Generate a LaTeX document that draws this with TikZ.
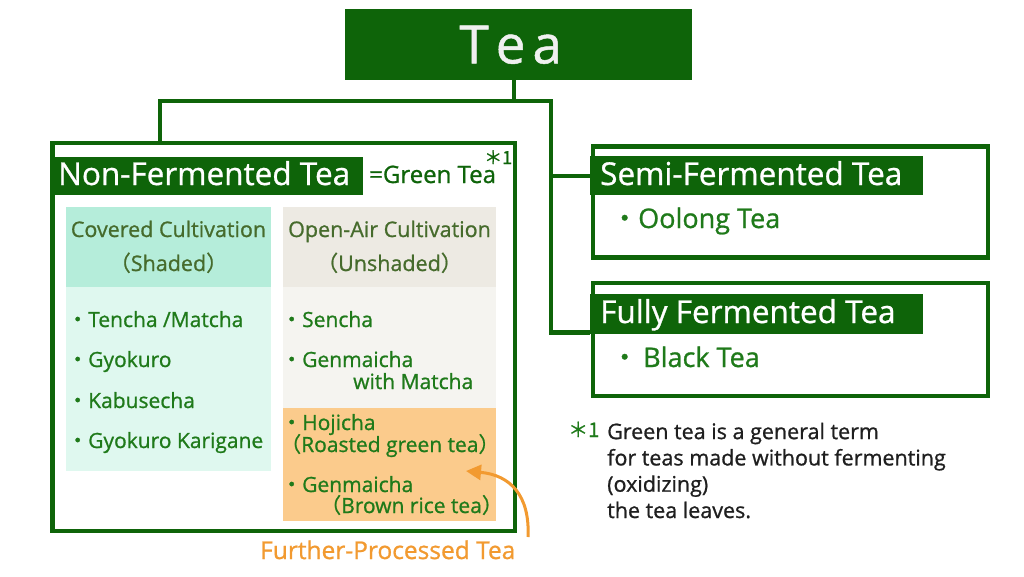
\documentclass[tikz,border=0pt]{standalone}
\usepackage{fontspec}
\setmainfont{Open Sans}[RawFeature={embolden=0.9}]
\newfontfamily\jpfont{Noto Sans CJK JP}[RawFeature={embolden=0.9}]
\usetikzlibrary{positioning,arrows.meta}

\definecolor{teagreen}{HTML}{0E6409}
\definecolor{leafgreen}{HTML}{1F7A1A}
\definecolor{olivetext}{HTML}{466B2C}
\definecolor{mintdark}{HTML}{B5EDDA}
\definecolor{mintlight}{HTML}{DFF8EF}
\definecolor{beigedark}{HTML}{EDEAE3}
\definecolor{beigelight}{HTML}{F5F4F0}
\definecolor{roastorange}{HTML}{FBCB8C}
\definecolor{arroworange}{HTML}{F29A30}

\newcommand{\dotmark}{{\jpfont ・}}
\newcommand{\lpar}{{\jpfont （}}
\newcommand{\rpar}{{\jpfont ）}}

\begin{document}
\begin{tikzpicture}[x=1pt,y=-1pt,
    groupbox/.style={draw=teagreen,line width=4.5pt,fill=white,inner sep=0pt,anchor=north west},
    titlebar/.style={fill=teagreen,inner sep=0pt,anchor=north west},
    titletext/.style={text=white,font=\fontsize{31.5}{31}\selectfont,inner sep=0pt,anchor=base west},
    cellbox/.style={inner sep=0pt,anchor=north west},
    headtext/.style={text=olivetext,font=\fontsize{21.5}{24}\selectfont,inner sep=0pt,anchor=base},
    itemtext/.style={text=leafgreen,font=\fontsize{21}{24}\selectfont,inner sep=0pt,anchor=base west},
    branch/.style={draw=teagreen,line width=4.3pt}]
    \useasboundingbox (0,0) rectangle (1024,576);
    \fill[white] (0,0) rectangle (1024,576);

    % root
    \node[titlebar,minimum width=347pt,minimum height=71pt,text=white!94!black,
          font=\fontsize{53}{53}\selectfont] (tea) at (345,9) {T\kern7pt e\kern7pt a\kern16pt};

    % non-fermented
    \node[groupbox,minimum width=462.5pt,minimum height=388pt] (nonferm) at (50,140.5) {};
    \node[titlebar,minimum width=313pt,minimum height=38pt] (nonfermbar) at (50,157) {};
    \node[titletext] (nonfermlbl) at (58,185) {Non-Fermented Tea};
    \node[inner sep=0pt,anchor=base west,text=teagreen,font=\fontsize{24}{24}\selectfont] (greentea) at (369,183) {=Green Tea};
    \node[inner sep=0pt,anchor=base west,text=teagreen,font=\fontsize{18}{20}\selectfont] (noteref) at (484,164) {\jpfont ＊1};

    \node[cellbox,fill=mintdark,minimum width=205pt,minimum height=80pt] (covhead) at (66,207) {};
    \node[cellbox,fill=mintlight,minimum width=205pt,minimum height=184pt] (covlist) at (66,287) {};
    \node[cellbox,fill=beigedark,minimum width=213pt,minimum height=80pt] (openhead) at (283,207) {};
    \node[cellbox,fill=beigelight,minimum width=213pt,minimum height=121pt] (openlist) at (283,287) {};
    \node[cellbox,fill=roastorange,minimum width=213pt,minimum height=113pt] (roast) at (283,408) {};

    \node[headtext] (covtitle) at (168.5,237) {Covered Cultivation};
    \node[headtext] (covsub) at (168.5,271) {\lpar Shaded\rpar};
    \node[headtext] (opentitle) at (389.5,237) {Open-Air Cultivation};
    \node[headtext] (opensub) at (389.5,271) {\lpar Unshaded\rpar};

    \node[itemtext] (tencha) at (67,327) {\dotmark Tencha /Matcha};
    \node[itemtext] (gyokuro) at (67,367) {\dotmark Gyokuro};
    \node[itemtext] (kabuse) at (67,408) {\dotmark Kabusecha};
    \node[itemtext] (karigane) at (67,448) {\dotmark Gyokuro Karigane};

    \node[itemtext] (sencha) at (281,327) {\dotmark Sencha};
    \node[itemtext] (genmatcha) at (281,367) {\dotmark Genmaicha};
    \node[itemtext] (genmatcha2) at (353,389) {with Matcha};
    \node[itemtext] (hojicha) at (281,430) {\dotmark Hojicha};
    \node[itemtext] (hojicha2) at (280,452) {\lpar Roasted green tea\rpar};
    \node[itemtext] (genmai) at (281,492) {\dotmark Genmaicha};
    \node[itemtext] (genmai2) at (320,513) {\lpar Brown rice tea\rpar};

    % semi / fully fermented
    \node[groupbox,minimum width=395pt,minimum height=111pt] (semi) at (590.5,144) {};
    \node[titlebar,minimum width=333pt,minimum height=39pt] (semibar) at (590,156) {};
    \node[titletext] (semilbl) at (600,185) {Semi-Fermented Tea};
    \node[itemtext,font=\fontsize{27}{28}\selectfont] (oolong) at (611,228) {\dotmark Oolong Tea};

    \node[groupbox,minimum width=395pt,minimum height=113pt] (fully) at (590.5,280.5) {};
    \node[titlebar,minimum width=333pt,minimum height=40pt] (fullybar) at (590,294) {};
    \node[titletext] (fullylbl) at (600,323) {Fully Fermented Tea};
    \node[itemtext,font=\fontsize{27}{28}\selectfont] (black) at (611,367) {\dotmark\kern5pt Black Tea};

    % tree lines
    \draw[branch] ([xshift=-4.5pt]tea.south) -- ++(0,20.5) coordinate (split);
    \draw[branch] (split) -| ([xshift=110pt]nonferm.north west);
    \draw[branch] (split) -| ([xshift=-39pt,yshift=2pt]fullybar.south west) -- ([yshift=2pt]fullybar.south west);
    \draw[branch] ([xshift=-39pt]semibar.west) -- (semibar.west);

    % further processed
    \node[inner sep=0pt,anchor=base west,text=arroworange,font=\fontsize{24.5}{24}\selectfont] (proclbl) at (260,559) {Further-Processed Tea};
    \coordinate (procfrom) at (528,537);
    \coordinate (procto) at (466,471);
    \draw[arroworange,line width=3pt,-{Triangle[length=15pt,width=15pt]}] (procfrom) .. controls (530,495) and (510,475) .. (procto);

    % footnote
    \node[inner sep=0pt,anchor=base west,text=leafgreen,font=\fontsize{20}{24}\selectfont] (notemark) at (568,437) {\jpfont ＊1};
    \node[inner sep=0pt,anchor=base west,align=left,text=black!88,font=\fontsize{21.5}{26.3}\selectfont] (note) at (607,518)
        {Green tea is a general term\\for teas made without fermenting\\(oxidizing)\\the tea leaves.};
\end{tikzpicture}
\end{document}
